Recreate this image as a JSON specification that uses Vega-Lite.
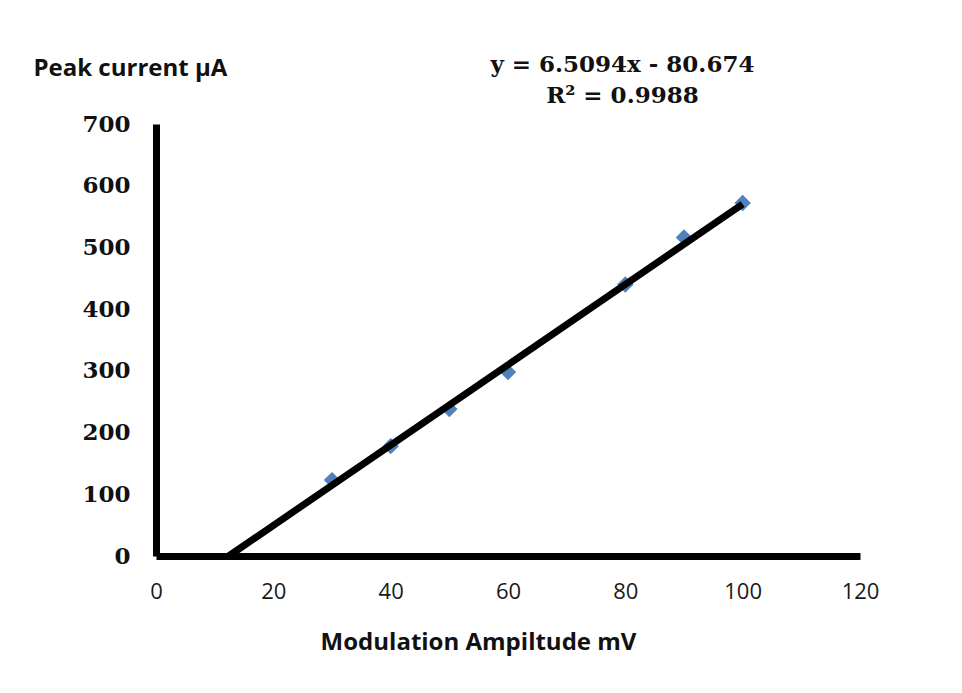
{
  "$schema": "https://vega.github.io/schema/vega-lite/v6.json",
  "width": 704,
  "height": 432,
  "autosize": {"type": "none"},
  "padding": {"left": 156, "top": 124, "right": 102, "bottom": 137},
  "background": "white",
  "config": {"view": {"stroke": null}},
  "datasets": {
    "points": [
      {"amp": 30, "current": 123},
      {"amp": 40, "current": 178},
      {"amp": 50, "current": 238},
      {"amp": 60, "current": 298},
      {"amp": 80, "current": 440},
      {"amp": 90, "current": 516},
      {"amp": 100, "current": 572}
    ],
    "trend": [
      {"amp": 12.394, "current": 0},
      {"amp": 100, "current": 570.266}
    ],
    "notes": [
      {"amp": 79.5, "current": 784, "label": "y = 6.5094x - 80.674"},
      {"amp": 79.5, "current": 734, "label": "R² = 0.9988"}
    ]
  },
  "layer": [
    {
      "data": {"name": "points"},
      "mark": {"type": "point", "shape": "diamond", "filled": true, "color": "#4f81bd", "size": 270, "opacity": 1},
      "encoding": {
        "x": {
          "field": "amp", "type": "quantitative",
          "scale": {"domain": [0, 120], "nice": false, "zero": true},
          "axis": {
            "title": "Modulation Ampiltude mV",
            "values": [0, 20, 40, 60, 80, 100, 120],
            "grid": false, "ticks": false, "tickSize": 0,
            "domainColor": "black", "domainWidth": 7,
            "labelFont": "Open Sans", "labelFontSize": 22, "labelColor": "#1a1a1a",
            "labelPadding": 25, "labelFlush": false,
            "titleFont": "Open Sans", "titleFontSize": 24, "titleFontWeight": "bold", "titleColor": "#111111",
            "titleX": 322, "titleY": 93, "titleAlign": "center", "titleBaseline": "alphabetic", "titleAnchor": null
          }
        },
        "y": {
          "field": "current", "type": "quantitative",
          "scale": {"domain": [0, 700], "nice": false, "zero": true},
          "axis": {
            "title": "Peak current µA",
            "values": [0, 100, 200, 300, 400, 500, 600, 700],
            "grid": false, "ticks": false, "tickSize": 0,
            "domainColor": "black", "domainWidth": 7,
            "labelFont": "DejaVu Serif", "labelFontWeight": "bold", "labelFontSize": 23, "labelColor": "#111111",
            "labelPadding": 26, "labelFlush": false,
            "titleFont": "Open Sans", "titleFontSize": 24, "titleFontWeight": "bold", "titleColor": "#111111",
            "titleAngle": 0, "titleAlign": "left", "titleBaseline": "alphabetic",
            "titleX": -123, "titleY": -49
          }
        }
      }
    },
    {
      "data": {"name": "trend"},
      "mark": {"type": "line", "color": "black", "strokeWidth": 7, "strokeCap": "butt"},
      "encoding": {
        "x": {"field": "amp", "type": "quantitative"},
        "y": {"field": "current", "type": "quantitative"}
      }
    },
    {
      "data": {"name": "notes"},
      "mark": {"type": "text", "font": "DejaVu Serif", "fontWeight": "bold", "fontSize": 23, "color": "#111111", "align": "center", "baseline": "alphabetic"},
      "encoding": {
        "x": {"field": "amp", "type": "quantitative"},
        "y": {"field": "current", "type": "quantitative"},
        "text": {"field": "label"}
      }
    }
  ]
}
